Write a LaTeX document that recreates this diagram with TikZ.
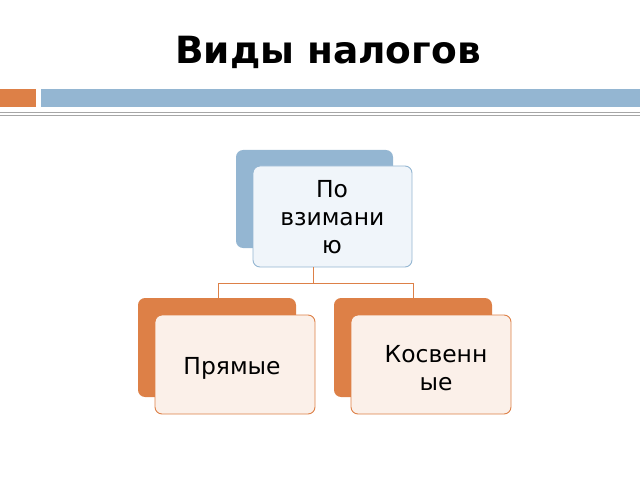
\documentclass[tikz,border=0pt]{standalone}
\usepackage{fontspec}
\setmainfont{DejaVu Sans}
\definecolor{accblue}{RGB}{148,182,210}
\definecolor{accorange}{RGB}{221,128,71}
\definecolor{paleblue}{RGB}{240,245,250}
\definecolor{paleorange}{RGB}{251,240,233}
\begin{document}
\begin{tikzpicture}[x=0.03cm,y=-0.03cm,
  back/.style={rounded corners=6pt},
  front/.style={draw,rounded corners=6pt,line width=0.8pt},
  label/.style={font=\fontsize{20}{24}\selectfont,align=center,text width=3.1cm}]
\useasboundingbox (0,0) rectangle (640,480);
\node[font=\fontsize{32}{38}\selectfont\bfseries] (title) at (328,52) {Виды налогов};
\fill[accorange] (0,89) rectangle (36,107);
\fill[accblue] (41,89) rectangle (640,107);
\draw[gray!70] (0,112) -- (640,112);
\draw[gray!70] (0,115) -- (640,115);
% top
\fill[back,accblue] (236,150) rectangle (393,248);
\draw[front,accblue,fill=paleblue] (253,166) rectangle (412,267);
\node[label] (vz) at (332,217) {По взимани ю};
% bottom
\fill[back,accorange] (138,298) rectangle (296,397);
\draw[front,accorange,fill=paleorange] (155,315) rectangle (315,414);
\node[label] (pr) at (232,368) {Прямые};
\fill[back,accorange] (334,298) rectangle (492,397);
\draw[front,accorange,fill=paleorange] (351,315) rectangle (511,414);
\node[label] (ko) at (436,368) {Косвенн ые};
% connectors
\coordinate (t) at (313,267);
\coordinate (l) at (218,298);
\coordinate (r) at (413,298);
\draw[accorange,line width=0.8pt] (t) -- (313,283) -| (l);
\draw[accorange,line width=0.8pt] (313,283) -| (r);
\end{tikzpicture}
\end{document}
